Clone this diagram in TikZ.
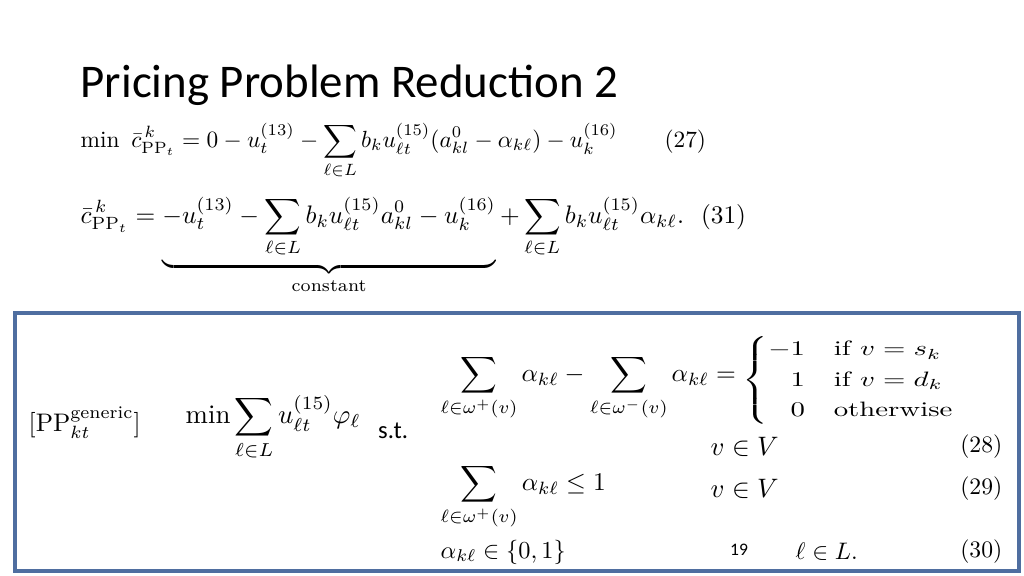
\documentclass[tikz,border=0pt]{standalone}
\usepackage{amsmath,amssymb}
\usepackage{fontspec}
\newfontfamily\slidefont{Carlito}
\usepackage{tikz}
\newcommand{\fitw}[2]{\resizebox{#1}{!}{$\displaystyle #2$}}

\begin{document}
\begin{tikzpicture}[x=0.01cm,y=-0.01cm]
  \useasboundingbox (0,0) rectangle (1024,576);
  %\draw[step=100] (0,0) grid (1024,576);

  \node[anchor=west,inner sep=0] (title) at (80,85)
  {\resizebox{5.37cm}{!}{\slidefont Pricing Problem Reduction 2}};

  \node[anchor=north west,inner sep=0] (eqa) at (80,122)
  {\fitw{6.25cm}{\min\ \bar{c}^{\,k}_{\mathrm{PP}_t} = 0 - u^{(13)}_t - \sum_{\ell\in L} b_k u^{(15)}_{\ell t}(a^0_{kl}-\alpha_{k\ell}) - u^{(16)}_k \qquad (27)}};
  \node[anchor=north west,inner sep=0] (eqb) at (80,196)
  {\fitw{6.65cm}{\bar{c}^{\,k}_{\mathrm{PP}_t} = \underbrace{-u^{(13)}_t - \sum_{\ell\in L} b_k u^{(15)}_{\ell t} a^0_{kl} - u^{(16)}_k}_{\text{constant}} + \sum_{\ell\in L} b_k u^{(15)}_{\ell t}\alpha_{k\ell}.\ \ (31)}};

  \draw[line width=1pt,draw={rgb,255:red,79;green,110;blue,160}] (15,313) rectangle (1019,571);

  \node[anchor=west,inner sep=0] (pp) at (28,423)
  {\fitw{1.12cm}{[\mathrm{PP}^{\mathrm{generic}}_{kt}]}};
  \node[anchor=west,inner sep=0] (obj) at (185,428)
  {\fitw{1.75cm}{\min \sum_{\ell\in L} u^{(15)}_{\ell t}\varphi_\ell}};
  \node[anchor=west,inner sep=1pt] (st) at (374,431) {\slidefont\scriptsize s.t.};

  \node[anchor=west,inner sep=0] (con1) at (440,388)
  {\fitw{2.95cm}{\sum_{\ell\in\omega^+(v)}\alpha_{k\ell} - \sum_{\ell\in\omega^-(v)}\alpha_{k\ell} =}};
  \node[anchor=west,inner sep=0] (cases) at (742,380)
  {\resizebox*{2.13cm}{0.9cm}{$\begin{cases} -1 & \text{if } v = s_k\\ \phantom{-}1 & \text{if } v = d_k\\ \phantom{-}0 & \text{otherwise}\end{cases}$}};
  \node[anchor=west,inner sep=0] (v28) at (710,447) {\fitw{0.68cm}{v\in V}};
  \node[anchor=east,inner sep=0] (n28) at (1003,447) {\fitw{0.42cm}{(28)}};

  \node[anchor=west,inner sep=0] (con2) at (440,497)
  {\fitw{1.65cm}{\sum_{\ell\in\omega^+(v)}\alpha_{k\ell} \le 1}};
  \node[anchor=west,inner sep=0] (v29) at (710,489) {\fitw{0.68cm}{v\in V}};
  \node[anchor=east,inner sep=0] (n29) at (1003,489) {\fitw{0.42cm}{(29)}};

  \node[anchor=west,inner sep=0] (con3) at (440,552)
  {\fitw{1.25cm}{\alpha_{k\ell}\in\{0,1\}}};
  \node[anchor=west,inner sep=0] (l30) at (795,552) {\fitw{0.62cm}{\ell\in L.}};
  \node[anchor=east,inner sep=0] (n30) at (1003,552) {\fitw{0.42cm}{(30)}};

  \fill[white] (712,536) rectangle (788,569);
  \node (page) at (739,550) {\slidefont\tiny 19};
\end{tikzpicture}
\end{document}
